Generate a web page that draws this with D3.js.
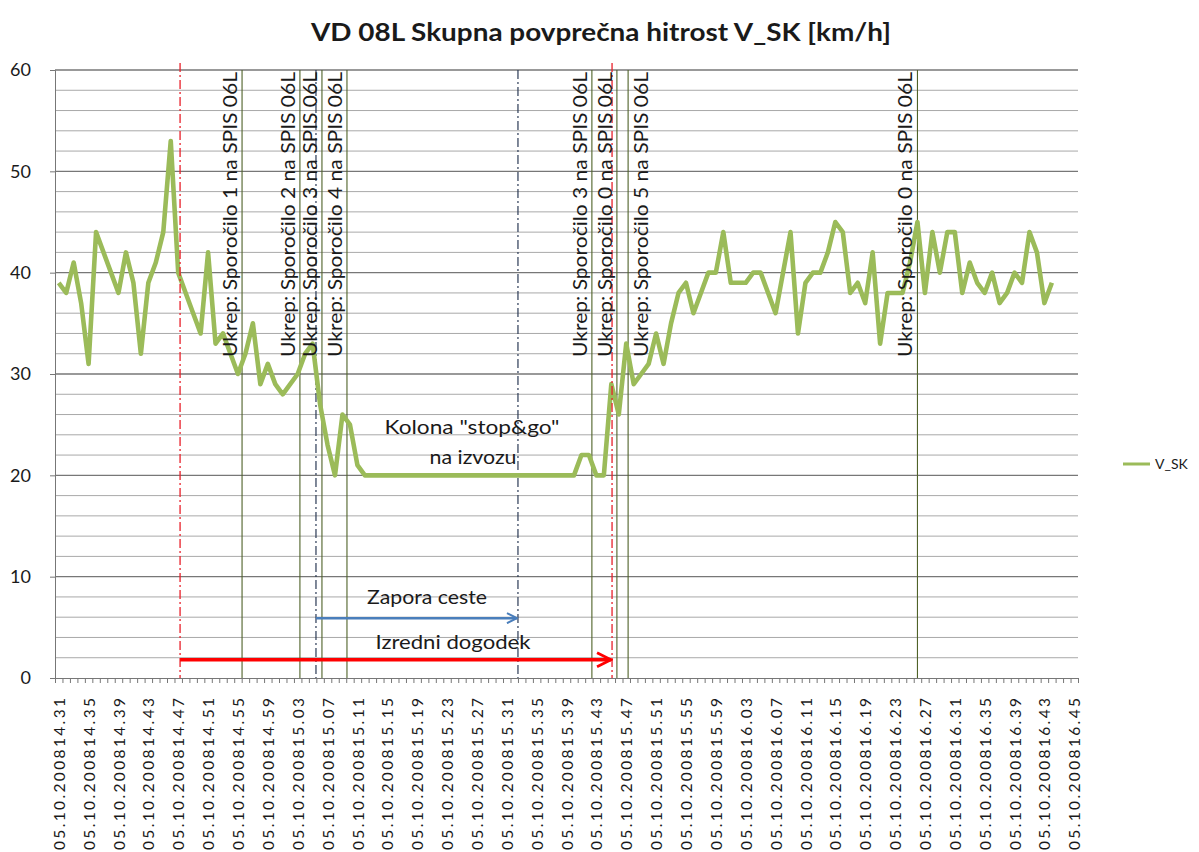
<!DOCTYPE html>
<html>
<head>
<meta charset="utf-8">
<script src="https://cdn.jsdelivr.net/npm/d3@7"></script>
<style>
  body { margin: 0; background: #fff; }
  text { font-family: Lato, "Open Sans", sans-serif; fill: #1a1a1a; }
</style>
</head>
<body>
<svg id="chart"></svg>
<script>
var W = 1199, H = 852;

// V_SK, one value per minute from 14.31
var speed = [39, 38, 41, 37, 31, 44, 42, 40, 38, 42, 39, 32, 39, 41, 44, 53, 40, 38, 36, 34,
  42, 33, 34, 32, 30, 32, 35, 29, 31, 29, 28, 29, 30, 32, 33, 27, 23, 20, 26, 25,
  21, 20, 20, 20, 20, 20, 20, 20, 20, 20, 20, 20, 20, 20, 20, 20, 20, 20, 20, 20,
  20, 20, 20, 20, 20, 20, 20, 20, 20, 20, 22, 22, 20, 20, 29, 26, 33, 29, 30, 31,
  34, 31, 35, 38, 39, 36, 38, 40, 40, 44, 39, 39, 39, 40, 40, 38, 36, 40, 44, 34,
  39, 40, 40, 42, 45, 44, 38, 39, 37, 42, 33, 38, 38, 38, 41, 45, 38, 44, 40, 44,
  44, 38, 41, 39, 38, 40, 37, 38, 40, 39, 44, 42, 37, 39];

var nCats = 137;
var tickLabels = ["05.10.200814.31", "05.10.200814.35", "05.10.200814.39", "05.10.200814.43",
  "05.10.200814.47", "05.10.200814.51", "05.10.200814.55", "05.10.200814.59",
  "05.10.200815.03", "05.10.200815.07", "05.10.200815.11", "05.10.200815.15",
  "05.10.200815.19", "05.10.200815.23", "05.10.200815.27", "05.10.200815.31",
  "05.10.200815.35", "05.10.200815.39", "05.10.200815.43", "05.10.200815.47",
  "05.10.200815.51", "05.10.200815.55", "05.10.200815.59", "05.10.200816.03",
  "05.10.200816.07", "05.10.200816.11", "05.10.200816.15", "05.10.200816.19",
  "05.10.200816.23", "05.10.200816.27", "05.10.200816.31", "05.10.200816.35",
  "05.10.200816.39", "05.10.200816.43", "05.10.200816.45"];
var yTicks = [0, 10, 20, 30, 40, 50, 60];

// "Ukrep" markers (category position) and their text
var ukrepPos = [24.55, 32.3, 35.25, 38.6, 71.4, 74.75, 76.25, 115.0];
var ukrepText = ["Ukrep: Sporočilo 1 na SPIS 06L", "Ukrep: Sporočilo 2 na SPIS 06L",
  "Ukrep: Sporočilo 3 na SPIS 06L", "Ukrep: Sporočilo 4 na SPIS 06L",
  "Ukrep: Sporočilo 3 na SPIS 06L", "Ukrep: Sporočilo 0 na SPIS 06L",
  "Ukrep: Sporočilo 5 na SPIS 06L", "Ukrep: Sporočilo 0 na SPIS 06L"];
var ukrepSide = [-1, -1, -1, -1, -1, -1, 1, -1];

// event ranges (category positions)
var izredni = [16.25, 74.1];   // Izredni dogodek
var zapora = [34.45, 61.5];    // Zapora ceste

var svg = d3.select("#chart").attr("width", W).attr("height", H);
svg.append("rect").attr("width", W).attr("height", H).attr("fill", "#fff");

var x = d3.scaleLinear().domain([-0.5, nCats - 0.5]).range([55, 1078]);
var y = d3.scaleLinear().domain([0, 60]).range([678, 70]);

// gridlines
var minor = d3.range(2, 60, 2).filter(function(v){ return v % 10 !== 0; });
svg.selectAll(".gminor").data(minor).enter().append("line")
  .attr("x1", x(-0.5)).attr("x2", x(nCats - 0.5))
  .attr("y1", function(d){ return y(d); }).attr("y2", function(d){ return y(d); })
  .attr("stroke", "#a9a9a9").attr("stroke-width", 1);
svg.selectAll(".gmajor").data([10, 20, 30, 40, 50, 60]).enter().append("line")
  .attr("x1", x(-0.5)).attr("x2", x(nCats - 0.5))
  .attr("y1", function(d){ return y(d); }).attr("y2", function(d){ return y(d); })
  .attr("stroke", "#777").attr("stroke-width", 1.4);

// y axis
var yAxis = svg.append("g").attr("transform", "translate(55,0)")
  .call(d3.axisLeft(y).tickValues(yTicks).tickSize(5).tickPadding(19));
yAxis.select(".domain").attr("stroke", "#777");
yAxis.selectAll(".tick line").attr("stroke", "#777");
yAxis.selectAll("text").style("font-size", "18px").attr("fill", "#1a1a1a");

// x axis: one tick per category boundary, labels every 4th
var xTickAxis = svg.append("g").attr("transform", "translate(0,678)")
  .call(d3.axisBottom(x).tickValues(d3.range(-0.5, nCats, 1)).tickSize(5).tickFormat(""));
xTickAxis.select(".domain").attr("stroke", "#777");
xTickAxis.selectAll(".tick line").attr("stroke", "#777");

var xLab = svg.append("g").attr("transform", "translate(0,678)")
  .call(d3.axisBottom(x).tickValues(d3.range(0, nCats, 4)).tickSize(0)
    .tickFormat(function(d, i){ return tickLabels[i]; }));
xLab.select(".domain").remove();
xLab.selectAll("text")
  .style("font-size", "15.5px")
  .attr("fill", "#1a1a1a")
  .attr("text-anchor", "end")
  .attr("transform", "rotate(-90)")
  .attr("x", -20).attr("y", 0).attr("dy", "0.36em")
  .attr("textLength", 152).attr("lengthAdjust", "spacing");

// Ukrep vertical lines
svg.selectAll(".ukrep").data(ukrepPos).enter().append("line")
  .attr("x1", function(d){ return x(d); }).attr("x2", function(d){ return x(d); })
  .attr("y1", y(60)).attr("y2", y(0))
  .attr("stroke", "#4f6228").attr("stroke-width", 1.1);

// dash-dot boundaries
svg.selectAll(".zap").data(zapora).enter().append("line")
  .attr("x1", function(d){ return x(d); }).attr("x2", function(d){ return x(d); })
  .attr("y1", y(60)).attr("y2", y(0))
  .attr("stroke", "#2b3a55").attr("stroke-width", 1.2)
  .attr("stroke-dasharray", "9,3,2,3");

// speed line
var line = d3.line()
  .x(function(d, i){ return x(i); })
  .y(function(d){ return y(d); });
svg.append("path").datum(speed)
  .attr("d", line)
  .attr("fill", "none")
  .attr("stroke", "#9bbb59")
  .attr("stroke-width", 4.6)
  .attr("stroke-linejoin", "round");

svg.selectAll(".izr").data(izredni).enter().append("line")
  .attr("x1", function(d){ return x(d); }).attr("x2", function(d){ return x(d); })
  .attr("y1", y(60.7)).attr("y2", y(0))
  .attr("stroke", "#e8202a").attr("stroke-width", 1.3)
  .attr("stroke-dasharray", "9,3,2,3");

// Ukrep labels
svg.selectAll(".ulab").data(ukrepPos).enter().append("text")
  .attr("transform", function(d, i){
    var bx = ukrepSide[i] < 0 ? x(d) - 5 : x(d) + 20;
    return "translate(" + bx + "," + 357 + ") rotate(-90)";
  })
  .attr("text-anchor", "start")
  .style("font-size", "19px")
  .attr("textLength", 285).attr("lengthAdjust", "spacingAndGlyphs")
  .text(function(d, i){ return ukrepText[i]; });

// arrows
var defs = svg.append("defs");
function marker(id, col) {
  defs.append("marker").attr("id", id)
    .attr("viewBox", "0 0 10 10").attr("refX", 9).attr("refY", 5)
    .attr("markerWidth", 5).attr("markerHeight", 5)
    .attr("markerUnits", "strokeWidth").attr("orient", "auto")
    .append("path").attr("d", "M1,1 L9,5 L1,9")
    .attr("fill", "none").attr("stroke", col).attr("stroke-width", 1.6);
}
marker("arrBlue", "#4a7ebb");
marker("arrRed", "#ff0000");

svg.append("line")
  .attr("x1", x(zapora[0])).attr("x2", x(zapora[1]) - 1)
  .attr("y1", y(5.9)).attr("y2", y(5.9))
  .attr("stroke", "#4a7ebb").attr("stroke-width", 2.5)
  .attr("marker-end", "url(#arrBlue)");
svg.append("line")
  .attr("x1", x(izredni[0])).attr("x2", x(izredni[1]) - 1)
  .attr("y1", y(1.8)).attr("y2", y(1.8))
  .attr("stroke", "#ff0000").attr("stroke-width", 3.5)
  .attr("marker-end", "url(#arrRed)");

// annotation text
function note(tx, ty, len, s) {
  svg.append("text").attr("x", tx).attr("y", ty).attr("text-anchor", "middle")
    .style("font-size", "20px")
    .attr("textLength", len).attr("lengthAdjust", "spacingAndGlyphs")
    .text(s);
}
note(427, 604, 120, "Zapora ceste");
note(453, 649, 155, "Izredni dogodek");
note(472, 434, 175, "Kolona \"stop&go\"");
note(473, 464, 87, "na izvozu");

// title
svg.append("text").attr("x", 601).attr("y", 41).attr("text-anchor", "middle")
  .style("font-size", "25px").style("font-weight", "bold")
  .attr("textLength", 580).attr("lengthAdjust", "spacingAndGlyphs")
  .text("VD 08L Skupna povprečna hitrost V_SK [km/h]");

// legend
svg.append("line").attr("x1", 1123).attr("x2", 1150).attr("y1", 464).attr("y2", 464)
  .attr("stroke", "#9bbb59").attr("stroke-width", 3);
svg.append("text").attr("x", 1155).attr("y", 469)
  .style("font-size", "14px").text("V_SK");
</script>
</body>
</html>
